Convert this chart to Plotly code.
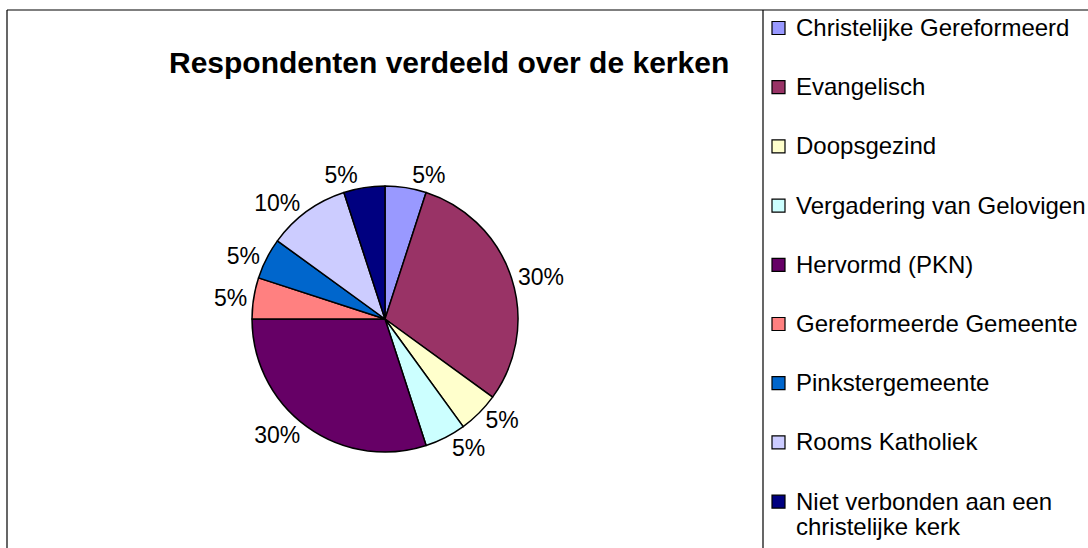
import plotly.graph_objects as go

W, H = 1088, 548

# ---- data ----
churches = [
    "Christelijke Gereformeerd",
    "Evangelisch",
    "Doopsgezind",
    "Vergadering van Gelovigen",
    "Hervormd (PKN)",
    "Gereformeerde Gemeente",
    "Pinkstergemeente",
    "Rooms Katholiek",
    "Niet verbonden aan een christelijke kerk",
]
respondents = [1, 6, 1, 1, 6, 1, 1, 2, 1]
legend_lines = [
    ["Christelijke Gereformeerd"],
    ["Evangelisch"],
    ["Doopsgezind"],
    ["Vergadering van Gelovigen"],
    ["Hervormd (PKN)"],
    ["Gereformeerde Gemeente"],
    ["Pinkstergemeente"],
    ["Rooms Katholiek"],
    ["Niet verbonden aan een", "christelijke kerk"],
]
colors = ["#9999FF", "#993366", "#FFFFCC", "#CCFFFF", "#660066",
          "#FF8080", "#0066CC", "#CCCCFF", "#000080"]
title = "Respondenten verdeeld over de kerken"

FONT = "Liberation Sans, Arial, sans-serif"


def px(x):
    return x / W


def py(y):
    return 1 - y / H


cx, cy, r = 385, 319, 133

fig = go.Figure()
fig.add_trace(go.Pie(
    labels=churches,
    values=respondents,
    sort=False,
    direction="clockwise",
    rotation=0,
    marker=dict(colors=colors, line=dict(color="black", width=1.5)),
    texttemplate="%{percent:.0%}",
    textposition="outside",
    textfont=dict(family=FONT, size=23, color="black"),
    domain=dict(x=[px(cx - r), px(cx + r)], y=[py(cy + r), py(cy - r)]),
    showlegend=False,
    hoverinfo="label+value+percent",
))

shapes = []
# outer frame and legend separator
shapes.append(dict(type="line", xref="paper", yref="paper",
                   x0=px(7), x1=px(W + 5), y0=py(10), y1=py(10),
                   line=dict(color="black", width=1.2)))
shapes.append(dict(type="line", xref="paper", yref="paper",
                   x0=px(7), x1=px(7), y0=py(10), y1=py(H + 5),
                   line=dict(color="black", width=1.2)))
shapes.append(dict(type="line", xref="paper", yref="paper",
                   x0=px(763), x1=px(763), y0=py(10), y1=py(H + 5),
                   line=dict(color="black", width=1.2)))

annotations = [dict(
    text=f"<b>{title}</b>", xref="paper", yref="paper",
    x=px(449), y=py(62), xanchor="center", yanchor="middle",
    showarrow=False, font=dict(family=FONT, size=30, color="black"),
)]

# manual legend
y0_leg, step = 26.5, 59.2
for i, (lines, col) in enumerate(zip(legend_lines, colors)):
    yc = y0_leg + step * i
    shapes.append(dict(type="rect", xref="paper", yref="paper",
                       x0=px(772), x1=px(785), y0=py(yc + 8), y1=py(yc - 5),
                       fillcolor=col, line=dict(color="black", width=1.2)))
    for j, ln in enumerate(lines):
        annotations.append(dict(
            text=ln, xref="paper", yref="paper",
            x=px(794), y=py(yc + 1 + 25 * j), xanchor="left", yanchor="middle",
            showarrow=False, font=dict(family=FONT, size=24, color="black"),
        ))

fig.update_layout(
    width=W, height=H,
    margin=dict(l=0, r=0, t=0, b=0),
    paper_bgcolor="white", plot_bgcolor="white",
    shapes=shapes, annotations=annotations,
)

fig.write_html("out.html", config={"displayModeBar": False},
               post_script="document.body.style.margin='0';")
